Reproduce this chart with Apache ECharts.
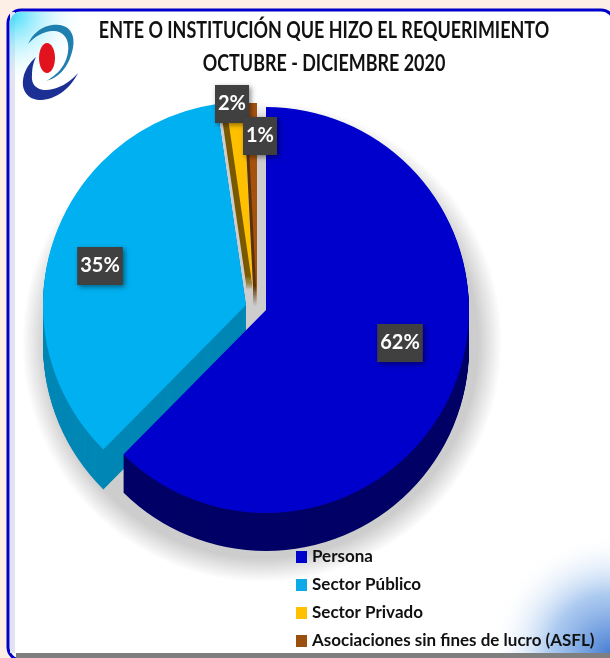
<!DOCTYPE html>
<html>
<head>
<meta charset="utf-8">
<style>html,body{margin:0;padding:0;background:#FDEEE6}#c{width:610px;height:658px}</style>
<script src="https://cdn.jsdelivr.net/npm/echarts@6/dist/echarts.min.js"></script>
</head>
<body>
<div id="c"></div>
<script>
const categories = ['Persona', 'Sector Público', 'Sector Privado', 'Asociaciones sin fines de lucro (ASFL)'];
const values = [62.4, 35.3, 1.5, 0.8];
const titleLines = ['ENTE O INSTITUCIÓN QUE HIZO EL REQUERIMIENTO', 'OCTUBRE - DICIEMBRE 2020'];

const faceColors = ['#0000CC', '#00B0F0', '#FFC000', '#A5520F'];
const sideColors = ['#000066', '#0087B5', '#7A5A00', '#5E3208'];
const legendColors = ['#0000CC', '#0DAAE8', '#FFC000', '#9C4F0C'];
const centers = [[266, 310], [246, 305], [253, 290], [257, 306]];
const labelCenters = [[400, 343], [100, 266], [232, 104], [260, 136]];
const R = 203, DEPTH = 38, START = 90;
const FONT = 'Lato, "Noto Sans", sans-serif';
const CLEAR = 'rgba(0,0,0,0)';

function layer(index, center, color) {
  return {
    type: 'pie', silent: true, animation: false, clockwise: true, startAngle: START,
    center: center, radius: [0, R],
    label: {show: false}, labelLine: {show: false},
    data: categories.map((name, i) => ({
      name: name, value: values[i],
      itemStyle: {color: i === index ? color : CLEAR}
    }))
  };
}

const series = [];
// extruded side walls and faces, back to front: Público, Privado, ASFL, Persona
function solid(i, dx, depth) {
  for (let d = depth; d > 0; d -= 1) {
    series.push(layer(i, [centers[i][0] + dx * d / depth, centers[i][1] + (dx ? 0 : d)], sideColors[i]));
  }
  series.push(layer(i, centers[i], faceColors[i]));
}
solid(1, 0, DEPTH + 2);
solid(2, -6, 6);
solid(3, -3, 3);
solid(0, 0, DEPTH);
// labels
series.push({
  type: 'pie', animation: false, silent: true, startAngle: START,
  center: [258, 310], radius: [0, R], z: 10,
  itemStyle: {color: CLEAR},
  avoidLabelOverlap: false,
  labelLine: {show: false},
  label: {
    show: true, position: 'inside',
    formatter: p => Math.round(p.value) + '%',
    color: '#FFFFFF', fontFamily: FONT, fontWeight: 'bold', fontSize: 20,
    backgroundColor: '#404040', padding: [10, 3, 8, 3],
    shadowBlur: 5, shadowColor: 'rgba(0,0,0,0.45)', shadowOffsetX: 2, shadowOffsetY: 2
  },
  labelLayout: p => ({
    x: labelCenters[p.dataIndex][0], y: labelCenters[p.dataIndex][1],
    align: 'center', verticalAlign: 'middle', hideOverlap: false, moveOverlap: false
  }),
  data: categories.map((name, i) => ({name: name, value: values[i]}))
});

// logo outlines: cubic segments sampled into polygons
function bez(start, segs) {
  const pts = [start];
  let p = start;
  segs.forEach(s => {
    for (let k = 1; k <= 12; k++) {
      const t = k / 12, u = 1 - t;
      pts.push([
        u*u*u*p[0] + 3*u*u*t*s[0] + 3*u*t*t*s[2] + t*t*t*s[4],
        u*u*u*p[1] + 3*u*u*t*s[1] + 3*u*t*t*s[3] + t*t*t*s[5]
      ]);
    }
    p = [s[4], s[5]];
  });
  return pts;
}
const logoUpper = bez([28, 44], [[34,30,48,23,60,25],[72,27,76,38,72,52],[68,68,58,78,46,81],[56,76,66,66,68,52],[70,38,62,30,52,31],[42,32,34,37,28,44]]);
const logoLower = bez([36, 57], [[26,66,22,76,23,86],[25,98,36,102,48,99],[62,95,72,85,78,73],[70,82,58,90,46,90],[36,90,31,84,32,75],[32,69,33,63,36,57]]);

function titleText(text, y) {
  return {type: 'text', z: 5, silent: true, x: 324, y: y, originX: 0, originY: 0, scaleX: 0.78,
    style: {text: text, align: 'center', verticalAlign: 'middle', fontFamily: FONT,
      fontWeight: 'bold', fontSize: 23, fill: '#111111'}};
}

const option = {
  backgroundColor: '#FDEEE6',
  animation: false,
  legend: {
    orient: 'vertical', left: 291, top: 542, itemWidth: 11, itemHeight: 12, itemGap: 8,
    selectedMode: false, icon: 'rect',
    textStyle: {fontFamily: FONT, fontWeight: 'bold', fontSize: 17, lineHeight: 20, color: '#111111'},
    data: categories.map((name, i) => ({name: name, itemStyle: {color: legendColors[i]}}))
  },
  graphic: {elements: [
    {type: 'rect', z: -10, silent: true, shape: {x: 8, y: 10, width: 606, height: 650, r: 13},
      style: {fill: '#FFFFFF', stroke: '#0000CC', lineWidth: 3}},
    {type: 'rect', z: -9, silent: true, shape: {x: 10, y: 12, width: 5, height: 641},
      style: {fill: '#E2E2F2'}},
    {type: 'rect', z: -9, silent: true, shape: {x: 10, y: 12, width: 90, height: 90, r: [11, 0, 0, 0]},
      style: {fill: {type: 'radial', x: 0, y: 0, r: 0.85, colorStops: [
        {offset: 0, color: 'rgba(40,215,250,0.95)'}, {offset: 1, color: 'rgba(255,255,255,0)'}]}}},
    {type: 'rect', z: -9, silent: true, shape: {x: 490, y: 510, width: 120, height: 144},
      style: {fill: {type: 'radial', x: 1, y: 1, r: 1, colorStops: [
        {offset: 0, color: 'rgba(70,125,210,1)'}, {offset: 0.5, color: 'rgba(145,185,235,0.75)'},
        {offset: 1, color: 'rgba(255,255,255,0)'}]}}},
    {type: 'rect', z: -8, silent: true, shape: {x: 16, y: 653, width: 594, height: 5},
      style: {fill: '#7F7F7F'}},
    {type: 'circle', z: -7, silent: true, shape: {cx: 262, cy: 342, r: 240},
      style: {fill: {type: 'radial', x: 0.5, y: 0.5, r: 0.5, colorStops: [
        {offset: 0, color: '#CDCDCD'}, {offset: 0.9, color: '#CDCDCD'},
        {offset: 1, color: 'rgba(205,205,205,0)'}]}}},
    {type: 'polygon', z: 1, silent: true, shape: {points: logoUpper}, style: {fill: '#1F7FAE'}},
    {type: 'polygon', z: 1, silent: true, shape: {points: logoLower}, style: {fill: '#1C2F95'}},
    {type: 'ellipse', z: 1, silent: true, shape: {cx: 47, cy: 58, rx: 8, ry: 15},
      style: {fill: '#E2131F'}},
    titleText(titleLines[0], 31),
    titleText(titleLines[1], 64)
  ]},
  series: series
};
const chart = echarts.init(document.getElementById('c'), null, {renderer: 'canvas'});
chart.setOption(option);
</script>
</body>
</html>
